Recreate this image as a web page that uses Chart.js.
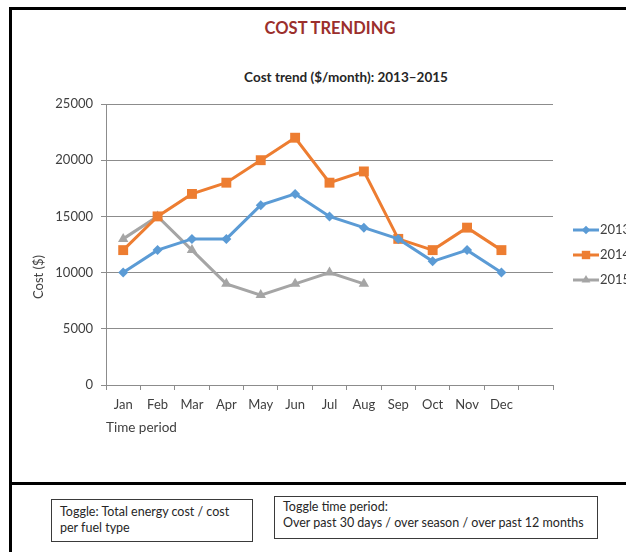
<!DOCTYPE html>
<html>
<head>
<meta charset="utf-8">
<script src="https://cdn.jsdelivr.net/npm/chart.js"></script>
<style>
  html, body { margin: 0; padding: 0; background: #fff; }
  body { width: 626px; height: 552px; position: relative; overflow: hidden; font-family: Lato, "Open Sans", sans-serif; color: #262626; }
  .frame-left { position: absolute; left: 9px; top: 7px; width: 3px; height: 560px; background: #000; }
  .frame-top { position: absolute; left: 9px; top: 7px; width: 640px; height: 3px; background: #000; }
  .divider { position: absolute; left: 9px; top: 482px; width: 640px; height: 3px; background: #000; }
  #chart01 { position: absolute; left: 0; top: 0; }
  .page-title { position: absolute; left: 230px; width: 200px; top: 18px; text-align: center; font-weight: bold; font-size: 16.5px; color: #9b2f2c; }
  .sub-title { position: absolute; left: 196px; width: 300px; top: 69px; text-align: center; font-weight: bold; font-size: 13.5px; color: #262626; }
  .y-title { position: absolute; left: 38px; top: 277px; transform: translate(-50%, -50%) rotate(-90deg); font-size: 13px; color: #404040; white-space: nowrap; }
  .toggle { position: absolute; border: 1px solid #3a3a3a; box-sizing: border-box; font-size: 12.5px; line-height: 16px; color: #262626; padding: 4px 8px; white-space: nowrap; }
  #toggle1 { left: 51px; top: 499px; width: 202px; height: 43px; }
  #toggle2 { left: 274px; top: 496px; width: 324px; height: 43px; padding-top: 2px; }
</style>
</head>
<body>
<div class="frame-left"></div>
<div class="frame-top"></div>
<div class="divider"></div>
<div class="page-title">COST TRENDING</div>
<div class="sub-title">Cost trend ($/month): 2013–2015</div>
<canvas id="chart01" width="626" height="480"></canvas>
<div class="y-title">Cost ($)</div>
<div class="toggle" id="toggle1">Toggle: Total energy cost / cost<br>per fuel type</div>
<div class="toggle" id="toggle2">Toggle time period:<br>Over past 30 days / over season / over past 12 months</div>
<script>
const months = ["Jan", "Feb", "Mar", "Apr", "May", "Jun", "Jul", "Aug", "Sep", "Oct", "Nov", "Dec", ""];
const years = ["2013", "2014", "2015"];
const cost2013 = [10000, 12000, 13000, 13000, 16000, 17000, 15000, 14000, 13000, 11000, 12000, 10000];
const cost2014 = [12000, 15000, 17000, 18000, 20000, 22000, 18000, 19000, 13000, 12000, 14000, 12000];
const cost2015 = [13000, 15000, 12000, 9000, 8000, 9000, 10000, 9000];

const fontFamily = "Lato, 'Open Sans', sans-serif";
const gridColor = "#8c8c8c";

// legend drawn as a short line with its marker, like the office-style chart
const lineLegend = {
	id: "lineLegend",
	afterDraw(chart, args, opts) {
		const ctx = chart.ctx;
		chart.data.datasets.forEach((ds, i) => {
			const y = opts.top + i * opts.gap;
			ctx.save();
			ctx.strokeStyle = ds.borderColor;
			ctx.lineWidth = 3;
			ctx.beginPath();
			ctx.moveTo(opts.left, y);
			ctx.lineTo(opts.left + 26, y);
			ctx.stroke();
			ctx.fillStyle = ds.backgroundColor;
			Chart.helpers.drawPoint(ctx, {
				pointStyle: ds.pointStyle,
				radius: ds.pointRadius * 0.85,
				rotation: 0,
				borderWidth: 0,
			}, opts.left + 13, y);
			ctx.fillStyle = "#404040";
			ctx.font = "13px " + fontFamily;
			ctx.textBaseline = "middle";
			ctx.textAlign = "left";
			ctx.fillText(ds.label, opts.left + 27, y);
			ctx.restore();
		});
	},
};

const data = {
	labels: months,
	datasets: [
		{
			label: years[0],
			data: cost2013,
			borderColor: "#5b9bd5",
			backgroundColor: "#5b9bd5",
			pointStyle: "rectRot",
			pointRadius: 5,
		},
		{
			label: years[1],
			data: cost2014,
			borderColor: "#ed7d31",
			backgroundColor: "#ed7d31",
			pointStyle: "rect",
			pointRadius: 7,
		},
		{
			label: years[2],
			data: cost2015,
			borderColor: "#a5a5a5",
			backgroundColor: "#a5a5a5",
			pointStyle: "triangle",
			pointRadius: 6,
		},
	],
};

const options = {
	responsive: false,
	animation: false,
	devicePixelRatio: 1,
	layout: {
		padding: { left: 0, top: 104, right: 73, bottom: 35 },
	},
	elements: {
		line: { borderWidth: 3, tension: 0 },
		point: { borderWidth: 0, hoverRadius: 7 },
	},
	plugins: {
		legend: { display: false },
		title: { display: false },
		tooltip: { enabled: false },
		lineLegend: { left: 573, top: 230, gap: 25 },
	},
	scales: {
		x: {
			offset: true,
			afterFit: (scale) => { scale.height = 60; },
			grid: {
				offset: true,
				drawOnChartArea: false,
				drawTicks: true,
				tickLength: 5,
				color: gridColor,
			},
			border: { color: gridColor },
			ticks: {
				color: "#404040",
				padding: 7,
				autoSkip: false,
				maxRotation: 0,
				font: { family: fontFamily, size: 13 },
			},
			title: {
				display: true,
				text: "Time period",
				align: "start",
				color: "#404040",
				padding: { top: 0, bottom: 9 },
				font: { family: fontFamily, size: 13.5 },
			},
		},
		y: {
			min: 0,
			max: 25000,
			afterFit: (scale) => { scale.width = 106; },
			grid: {
				color: gridColor,
				tickLength: 5,
			},
			border: { color: gridColor },
			ticks: {
				stepSize: 5000,
				color: "#404040",
				padding: 8,
				font: { family: fontFamily, size: 13 },
				callback: (value) => value,
			},
		},
	},
};

new Chart(document.querySelector("#chart01"), {
	type: "line",
	data,
	options,
	plugins: [lineLegend],
});
</script>
</body>
</html>
